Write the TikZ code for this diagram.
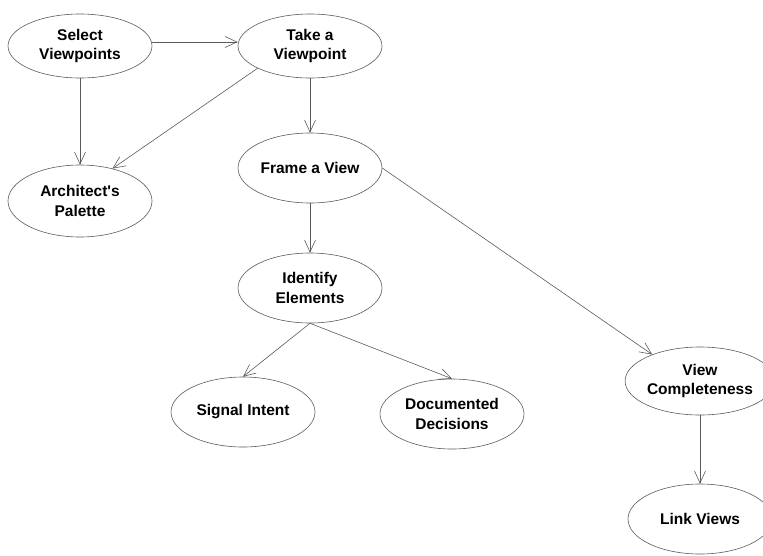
\documentclass[tikz,border=0pt]{standalone}
\usepackage{fontspec}
\setmainfont{Liberation Sans}[Ligatures=TeXOff]
\usetikzlibrary{shapes.geometric,arrows.meta}
\definecolor{edgegray}{RGB}{90,90,90}
\begin{document}
\begin{tikzpicture}[x=1pt,y=-1pt,
  proc/.style={ellipse,draw=edgegray,line width=0.6pt,inner sep=0pt,
    minimum width=144pt,minimum height=70pt,align=center,
    font=\fontsize{15.5}{19.5}\selectfont\bfseries},
  flow/.style={draw=edgegray,line width=0.6pt,
    -{Straight Barb[length=12pt,width=11pt,line width=0.6pt]}}]
\useasboundingbox (0,0) rectangle (763,555);
\clip (0,0) rectangle (763,555);
\node[proc,minimum height=64pt] (sv) at (80,46) {Select\\Viewpoints};
\node[proc,minimum height=64pt] (tv) at (310,46) {Take a\\Viewpoint};
\node[proc,minimum height=72pt] (ap) at (80,201) {Architect's\\Palette};
\node[proc] (fv) at (310,168) {Frame a View};
\node[proc] (ie) at (310,288) {Identify\\Elements};
\node[proc] (si) at (243,412) {Signal Intent};
\node[proc] (dd) at (452,414) {Documented\\Decisions};
\node[proc,minimum height=68pt] (vc) at (700,381) {View\\Completeness};
\node[proc] (lv) at (700,519) {Link Views};
\draw[flow] ([yshift=4pt]sv.east) -- ([yshift=4pt]tv.west);
\draw[flow] (sv.south) -- (ap.north);
\draw[flow] (tv.203) -- (ap.45);
\draw[flow] (tv.south) -- (fv.north);
\draw[flow] (fv.east) -- (vc.151);
\draw[flow] (fv.south) -- (ie.north);
\draw[flow] (ie.south) -- (si.north);
\draw[flow] (ie.south) -- (dd.north);
\draw[flow] (vc.south) -- (lv.north);
\end{tikzpicture}
\end{document}
